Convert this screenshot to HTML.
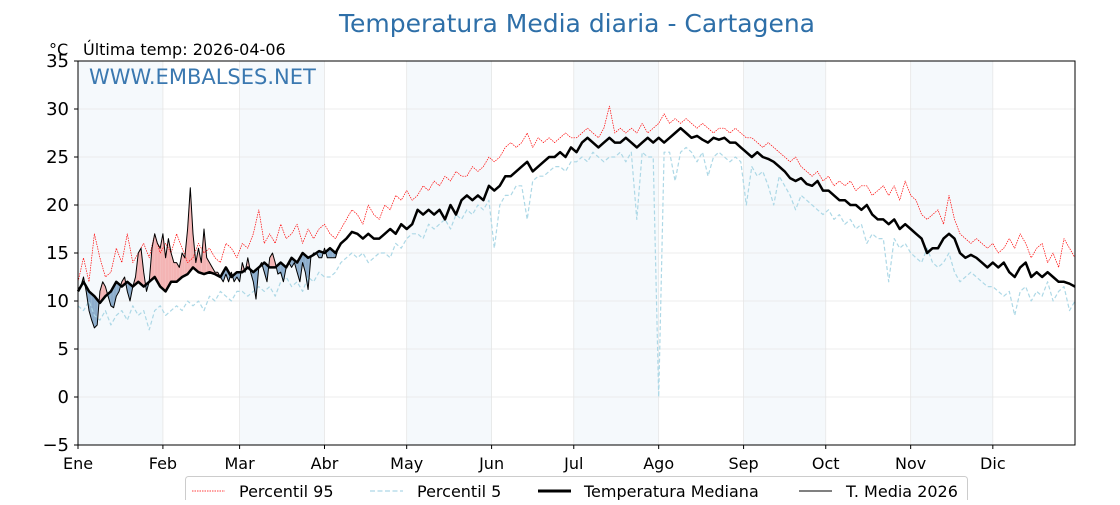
<!DOCTYPE html>
<html><head><meta charset="utf-8"><style>
body{margin:0;background:#fff;}
svg text{font-family:"DejaVu Sans","Liberation Sans",sans-serif;}
</style></head><body>
<svg id="c" width="1120" height="500" xmlns="http://www.w3.org/2000/svg">
<text x="577" y="32" text-anchor="middle" font-size="25" fill="#2e6fa8">Temperatura Media diaria - Cartagena</text>
<text x="49" y="55" font-size="16" fill="#000">°C</text>
<text x="83" y="55" font-size="16" fill="#000">Última temp: 2026-04-06</text>
<g id="bands"></g><g id="grid"></g><g id="fills"></g><g id="lines"></g>
<rect x="78" y="61" width="997" height="384" fill="none" stroke="#000" stroke-width="1"/>
<text x="89" y="84" font-size="21" fill="#3a78b0">WWW.EMBALSES.NET</text>
<g id="axes"></g>
<g>
<rect x="185.5" y="476.5" width="782" height="30" rx="3" fill="#fff" stroke="#ccc"/>
<line x1="192" y1="491" x2="225" y2="491" stroke="red" stroke-width="0.8" stroke-dasharray="1.5,1"/>
<text x="239" y="497" font-size="16">Percentil 95</text>
<line x1="370" y1="491" x2="403" y2="491" stroke="#add8e6" stroke-width="1.3" stroke-dasharray="5,2.5"/>
<text x="417" y="497" font-size="16">Percentil 5</text>
<line x1="538" y1="491" x2="571" y2="491" stroke="#000" stroke-width="3"/>
<text x="584" y="497" font-size="16">Temperatura Mediana</text>
<line x1="799" y1="491" x2="832" y2="491" stroke="#000" stroke-width="1"/>
<text x="846" y="497" font-size="16">T. Media 2026</text>
</g>
</svg>
<script>
const monthLabels=["Ene","Feb","Mar","Abr","May","Jun","Jul","Ago","Sep","Oct","Nov","Dic"];
const monthStarts=[0,31,59,90,120,151,181,212,243,273,304,334];
const yTicks=[-5,0,5,10,15,20,25,30,35];
const median=[11,12,11,10.5,9.8,10.5,11,12,11.5,12,11.5,12,11.5,12,12.5,11.5,
11,12,12,12.5,12.8,13.5,13,12.8,13,12.8,12.5,13.5,12.5,13,
13,13.5,13,13.5,14,13.5,13.5,14,13.5,14.5,14,15,14.5,14.8,15.2,15,
15.5,15,16,16.5,17.2,17,16.5,17,16.5,16.5,17,17.5,17,18,17.5,
18,19.5,19,19.5,19,19.5,18.5,20,19,20.5,21,20.5,21,20.5,22,
21.5,22,23,23,23.5,24,24.5,23.5,24,24.5,25,25,25.5,25,26,
25.5,26.5,27,26.5,26,26.5,27,26.5,26.5,27,26.5,26,26.5,27,26.5,27,
26.5,27,27.5,28,27.5,27,27.2,26.8,26.5,27,26.8,27,26.5,26.5,26,
25.5,25,25.5,25,24.8,24.5,24,23.5,22.8,22.5,22.8,22.2,22,22.5,21.5,
21.5,21,20.5,20.5,20,20,19.5,20,19,18.5,18.5,18,18.5,17.5,18,
17.5,17,16.5,15,15.5,15.5,16.5,17,16.5,15,14.5,14.8,14.5,14,13.5,
14,13.5,14,13,12.5,13.5,14,12.5,13,12.5,13,12.5,12,12,11.8,11.5];
const p95=[12,14.5,12,17,14.5,12.5,13,15.5,14,17,14,15,16,14.5,17,15,
16,15,17,15.5,14,14.5,16,15,15.5,14.5,14,16,15.5,14.5,
16,15.5,17,19.5,16,17,16,18,16.5,17,18,16,17.5,16.5,17.5,18,
17,16.5,17.5,18.5,19.5,19,18,20,19,18.5,20,19.5,21,20.5,21.5,
20.5,21,22,21.5,22.5,22,23,22.5,23.5,23,23,24,23.5,24,25,
24.5,25,26,26.5,26,26.5,27.5,26,27,26.5,27,26.5,27,27.5,27,
27,27.5,28,27.5,27,28,30.3,27.5,28,27.5,28,27.5,28.5,27.5,28,28.5,
29.5,28.5,29,28.5,29,28.5,28,28.5,28,27.5,28,28,27.5,28,27.5,
27,27,26.5,26,26.5,26,25.5,25,24.5,25,24,23.5,23,23.5,22.5,
23,22,22.5,22,22.5,21.5,22,22,21,21.5,22,21,22,20.5,22.5,
21,20.5,19,18.5,19,19.5,18,21,18.5,17,16.5,16,16.5,16,15.5,
16,15,15.5,16.5,15.5,17,16,14.5,15.5,16,14,15,13.5,16.5,15.5,14.5];
const p5=[9.5,9,10,8.5,8,9,7.5,8.5,9,8,9.5,8.5,9,7,9,9.5,
8.5,9,9.5,9,10,9.5,10,9,10.5,10,11,10.5,10,11,
11,10.5,11,11.5,11,11.5,10.5,12,12.5,11.5,12,11,12.5,12,13,12.5,
12.5,13,14,14.5,15,14.5,15,14,14.5,15,15,14.5,16,15.5,16.5,
17,17,16.5,18,17.5,18,18.5,17.5,19,18.5,19.5,19,20,19.5,20.5,
15.5,20,21,21,22,22,18.5,22.5,23,23,23.5,24,24,23.5,24.5,
24.5,25,24.5,25.5,25,24.5,25,25,25.5,24.5,25.5,18.5,25.5,25,25,0,
25.5,25.5,22.5,25.5,26,25.5,24.5,25.5,23,25,25.5,25,24.5,25,24.5,
20,24,23,23.5,22,20,23,22,21,19.5,21,20.5,20,19.5,19,
19.5,18.5,19,18,18.5,17.5,18,16,17,16.5,16.5,12,16.5,15.5,16,
15,14.5,14,15.5,14,13.5,14,15,13,12,12.5,13,12.5,12,11.5,
11.5,11,10.5,11,8.5,11,11.5,10,11,10.5,12,10,11,11.5,9,10];
const t2026=[11.3,11.5,12.5,11,9,8,7.2,7.5,11,12,11.5,
10.5,9.5,9.3,10.5,11,12,12.5,11,10,11.5,
12.5,15,15.5,13,11,12,15.5,17,16,15.5,
17,14.5,16.5,15,14,14,13.5,15,14.5,17.5,21.8,17,14,15.5,14,
17.5,14.5,14,13.5,13,13,12.5,12,12.8,12,
13,12,12.5,12,14,13,14.5,13,12,10.2,
13.5,14,13,12,14.5,15,14,12.8,13,12,
13.5,14,13.5,14,13,12,14,13,11.2,14.5,
15,15,14.5,14.5,15.5,14.5,14.5,14.5,14.5,15.5];
const NS="http://www.w3.org/2000/svg";
const X=d=>78+d*997/364, Y=v=>397-v*9.6;
function mk(tag,attrs,parent){const e=document.createElementNS(NS,tag);for(const k in attrs)e.setAttribute(k,attrs[k]);parent.appendChild(e);return e;}
const bands=document.getElementById('bands'),grid=document.getElementById('grid'),fills=document.getElementById('fills'),lines=document.getElementById('lines'),axes=document.getElementById('axes');
const ends=monthStarts.concat([364]);
for(let m=0;m<12;m+=2){const r=mk('rect',{x:X(ends[m]),y:61,width:X(ends[m+1])-X(ends[m]),height:384,fill:'#f5f9fc'},bands);

}
yTicks.forEach(v=>{const l=mk('line',{x1:78,x2:1075,y1:Y(v),y2:Y(v),stroke:'#e6e6e6','stroke-width':0.8},grid);


mk('line',{x1:74,x2:78,y1:Y(v),y2:Y(v),stroke:'#000'},axes);
const t=mk('text',{x:69,y:Y(v)+6,'text-anchor':'end','font-size':18},axes);t.textContent=(v<0?'\u2212'+(-v):v);

});
monthStarts.forEach((d,i)=>{const l=mk('line',{x1:X(d),x2:X(d),y1:61,y2:445,stroke:'#e6e6e6','stroke-width':0.8},grid);


mk('line',{x1:X(d),x2:X(d),y1:445,y2:449,stroke:'#000'},axes);
const t=mk('text',{x:X(d),y:469,'text-anchor':'middle','font-size':16},axes);t.textContent=monthLabels[i];

});
const medAt=d=>{const i=Math.min(Math.floor(d/2),median.length-2),f=(d-2*i)/2;return median[i]*(1-f)+median[i+1]*f;};
for(let d=0;d<t2026.length-1;d++){
 const a0=t2026[d]-medAt(d),a1=t2026[d+1]-medAt(d+1);
 const segs=[];
 if(a0*a1<0){const f=a0/(a0-a1);segs.push([d,d+f,a0]);segs.push([d+f,d+1,a1]);}else segs.push([d,d+1,a0+a1]);
 segs.forEach(([s,e,sg])=>{
  const tv=x=>{const f=x-d;return t2026[d]*(1-f)+t2026[d+1]*f;};
  const pts=[[X(s),Y(tv(s))],[X(e),Y(tv(e))],[X(e),Y(medAt(e))],[X(s),Y(medAt(s))]];
  const p=mk('polygon',{points:pts.map(q=>q.join(',')).join(' '),fill:sg>=0?'#f4b4b4':'#8cadcc',stroke:'none'},fills);
  
  
 });
}
function line(arr,step,attrs,name){const d=arr.map((v,i)=>(i?'L':'M')+X(i*step).toFixed(1)+','+Y(v).toFixed(1)).join('');
const p=mk('path',Object.assign({d:d,fill:'none','stroke-linejoin':'round'},attrs),lines);

}
line(p5,2,{stroke:'#add8e6','stroke-width':1.2,'stroke-dasharray':'4,2.5'},'percentil-5-line');
line(p95,2,{stroke:'red','stroke-width':0.7,'stroke-dasharray':'1.5,1'},'percentil-95-line');
line(median,2,{stroke:'#000','stroke-width':2.5},'median-line');
line(t2026,1,{stroke:'#000','stroke-width':1},'media-2026-line');
</script>
</body></html>
